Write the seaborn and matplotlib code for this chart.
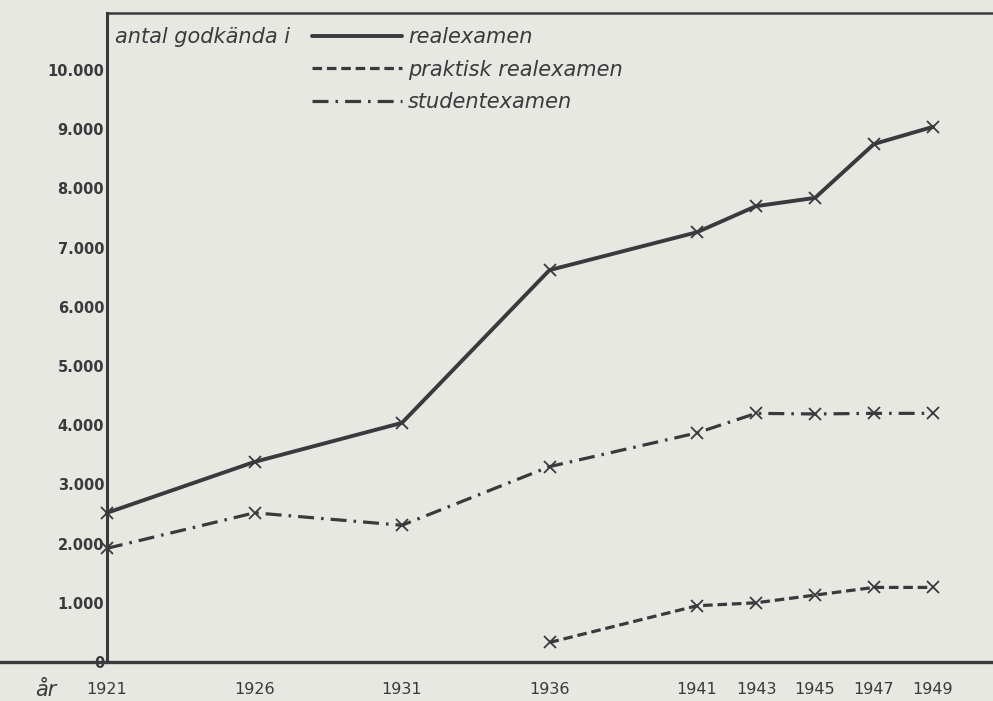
import numpy as np
import pandas as pd
import seaborn as sns
import matplotlib.pyplot as plt
from matplotlib.lines import Line2D

# antal godkända per år
years = [1921, 1926, 1931, 1936, 1941, 1943, 1945, 1947, 1949]
realexamen = [2520, 3380, 4040, 6620, 7260, 7700, 7840, 8750, 9040]
praktisk_years = [1936, 1941, 1943, 1945, 1947, 1949]
praktisk = [330, 950, 1000, 1130, 1260, 1260]
studentexamen = [1920, 2520, 2310, 3300, 3870, 4200, 4190, 4200, 4200]

series_names = ["realexamen", "praktisk realexamen", "studentexamen"]
ytick_values = list(range(0, 11000, 1000))
ytick_labels = ["0" if v == 0 else f"{v // 1000}.000" for v in ytick_values]

sns.set_style("white")
plt.rcParams.update(
    {
        "font.family": ["DejaVu Sans"],
        "axes.facecolor": "none",
        "figure.facecolor": "#e7e8e2",
    }
)

ink = "#3b393d"
paper = "#e7e8e2"

df = pd.concat(
    [
        pd.DataFrame({"år": years, "antal": realexamen, "examen": series_names[0]}),
        pd.DataFrame({"år": praktisk_years, "antal": praktisk, "examen": series_names[1]}),
        pd.DataFrame({"år": years, "antal": studentexamen, "examen": series_names[2]}),
    ],
    ignore_index=True,
)

dashes = {
    series_names[0]: "",
    series_names[1]: (3.0, 1.5),
    series_names[2]: (5, 2.2, 0.8, 2.2),
}
widths = {series_names[0]: 2.8, series_names[1]: 2.3, series_names[2]: 2.3}

fig = plt.figure(figsize=(9.93, 7.01), dpi=100)
ax = fig.add_axes([0, 39 / 701, 1, (662 - 13) / 701])

px_per_year = (933 - 107) / (years[-1] - years[0])
x_left = years[0] - 107 / px_per_year
x_right = years[-1] + 60 / px_per_year
y_top = (662 - 13) / 0.0592

for name in series_names:
    sub = df[df["examen"] == name]
    sns.lineplot(
        data=sub, x="år", y="antal", ax=ax, color=ink,
        linewidth=widths[name], marker="x", markersize=9,
        markeredgewidth=1.3, markeredgecolor=ink,
    )
    line = ax.get_lines()[-1]
    if dashes[name]:
        line.set_dashes(dashes[name])

ax.set_xlim(x_left, x_right)
ax.set_ylim(0, y_top)

ax.spines["left"].set_position(("data", years[0]))
ax.spines["left"].set_linewidth(2.2)
ax.spines["bottom"].set_linewidth(2.4)
for s in ("left", "bottom"):
    ax.spines[s].set_color(ink)
ax.spines["right"].set_visible(False)
ax.spines["top"].set_visible(False)
ax.hlines(y_top, years[0], x_right, color=ink, linewidth=1.8, clip_on=False)

ax.set_yticks(ytick_values)
ax.set_yticklabels(ytick_labels)
ax.set_xticks(years)
ax.set_xticklabels([str(y) for y in years])
ax.tick_params(axis="y", direction="in", length=6, width=1, color=ink, pad=2,
               labelsize=10.5, labelcolor=ink)
ax.tick_params(axis="x", direction="inout", length=13, width=1, color=ink, pad=8,
               labelsize=11.5, labelcolor=ink)
for lab in ax.get_yticklabels():
    lab.set_fontweight("bold")
ax.set_xlabel("")
ax.set_ylabel("")
ax.grid(False)

fig.text(35 / 993, 1 - 690 / 701, "år", style="italic", fontsize=15,
         color=ink, va="center", ha="left")

handles = [
    Line2D([], [], color=ink, linewidth=widths[n], dashes=dashes[n] if dashes[n] else (None, None))
    for n in series_names
]
handles[0].set_linestyle("-")
fig.text(115 / 993, 1 - 37 / 701, "antal godkända i", style="italic",
         fontsize=15, color=ink, va="center", ha="left")
fig.legend(
    handles, series_names, loc="upper left",
    bbox_to_anchor=(312 / 993, 1 - 27 / 701), bbox_transform=fig.transFigure,
    frameon=False, borderpad=0, borderaxespad=0, handlelength=4.3,
    handletextpad=0.3, labelspacing=0.6,
    prop={"style": "italic", "size": 15}, labelcolor=ink,
)

fig.savefig("out.png", dpi=100, facecolor=paper)
